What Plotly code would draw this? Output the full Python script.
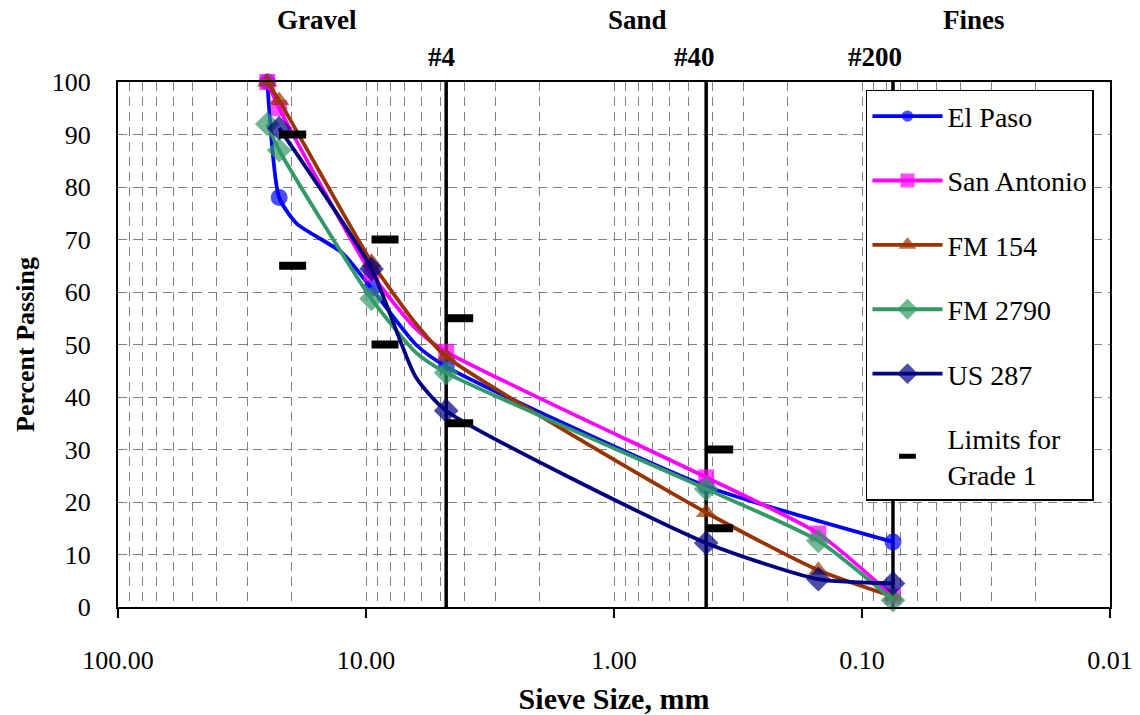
import math
import plotly.graph_objects as go

# Sieve openings (mm) used in the gradation tests
SIEVE_MM = [25.0, 22.4, 19.0, 12.5, 9.5, 6.3, 4.75, 0.425, 0.15, 0.075]
# Sieves that carry a visible marker on the curves
MARKED_SIEVES = [25.0, 22.4, 9.5, 4.75, 0.425, 0.15, 0.075]

# Percent passing per source (None = sieve not reported)
EL_PASO = [100, 78.0, 73.0, 67.5, 60.7, 50.0, 45.8, 23.0, None, 12.4]
SAN_ANTONIO = [100, 95.0, None, None, 63.5, 53.0, 48.6, 24.7, 14.0, 2.0]
FM_154 = [100, 96.5, None, None, 65.7, 54.0, 47.7, 18.0, 7.0, 2.0]
FM_2790 = [92.0, 87.0, None, None, 58.7, 48.5, 44.6, 22.5, 12.6, 1.3]
US_287 = [None, 91.2, None, None, 64.4, 43.8, 37.4, 12.2, 5.3, 4.5]

# Grade 1 specification limits
LIMIT_SIEVE_MM = [22.4, 22.4, 9.5, 9.5, 4.75, 4.75, 0.425, 0.425]
LIMIT_PCT = [90, 65, 70, 50, 55, 35, 30, 15]

# Sieve boundaries between gravel / sand / fines
BOUNDARY_MM = [4.75, 0.425, 0.075]
BOUNDARY_LABELS = ["#4", "#40", "#200"]

REGION_LABELS = ["Gravel", "Sand", "Fines"]
REGION_X_PAPER = [0.2006, 0.524, 0.863]

X_TICKS = [100, 10, 1, 0.1, 0.01]
X_TICK_TEXT = ["100.00", "10.00", "1.00", "0.10", "0.01"]

SERIF = "Liberation Serif"

series = [
    ("El Paso", EL_PASO, "#0000FF", "circle", 17),
    ("San Antonio", SAN_ANTONIO, "#FF00FF", "square", 16),
    ("FM 154", FM_154, "#993300", "triangle-up", 18),
    ("FM 2790", FM_2790, "#339966", "diamond", 19),
    ("US 287", US_287, "#000080", "diamond", 19),
]

fig = go.Figure()

# Heavy vertical lines at the #4, #40 and #200 sieves
for mm in BOUNDARY_MM:
    fig.add_trace(go.Scatter(
        x=[mm, mm], y=[0, 100], mode="lines",
        line=dict(color="black", width=3.5),
        showlegend=False, hoverinfo="skip",
    ))

for i, (name, values, color, symbol, msize) in enumerate(series):
    xs, ys, sizes = [], [], []
    for mm, v in zip(SIEVE_MM, values):
        if v is None:
            continue
        xs.append(mm)
        ys.append(v)
        sizes.append(msize if mm in MARKED_SIEVES else 0)
    fig.add_trace(go.Scatter(
        x=xs, y=ys, name=name, mode="lines+markers",
        line=dict(color=color, width=3.8, shape="spline", smoothing=0.6),
        marker=dict(symbol=symbol, size=sizes, color=color,
                    line=dict(width=0)),
        legendgroup=f"g{i}", cliponaxis=False,
    ))

# Specification limits: short bars starting at each sieve size
bar_x, bar_y = [], []
for mm, pct in zip(LIMIT_SIEVE_MM, LIMIT_PCT):
    bar_x += [mm, mm / 1.285, None]
    bar_y += [pct, pct, None]
fig.add_trace(go.Scatter(
    x=bar_x, y=bar_y, mode="lines",
    line=dict(color="black", width=8),
    showlegend=False, legendgroup="limits", hoverinfo="skip",
))
fig.add_trace(go.Scatter(
    x=[None], y=[None], mode="markers", name="Limits for<br>Grade 1",
    marker=dict(symbol="line-ew", size=12,
                line=dict(color="black", width=5)),
    legendgroup="limits",
))

annotations = []
for label, xp in zip(REGION_LABELS, REGION_X_PAPER):
    annotations.append(dict(
        text=f"<b>{label}</b>", x=xp, y=1.1181, xref="paper", yref="paper",
        xanchor="center", yanchor="middle",
        showarrow=False, font=dict(family=SERIF, size=27, color="black"),
    ))
for mm, label in zip(BOUNDARY_MM, BOUNDARY_LABELS):
    annotations.append(dict(
        text=f"<b>{label}</b>", x=math.log10(mm), y=1.0476,
        xref="x", yref="paper", xanchor="right", yanchor="middle", xshift=11,
        showarrow=False, font=dict(family=SERIF, size=27, color="black"),
    ))

minor_vals = [k * 10 ** e for e in range(-2, 2) for k in range(2, 10)]

fig.update_layout(
    width=1140, height=715,
    margin=dict(l=118, r=30, t=82, b=108),
    paper_bgcolor="white", plot_bgcolor="white",
    font=dict(family=SERIF, color="black"),
    annotations=annotations,
    legend=dict(
        x=0.754, y=0.985, xanchor="left", yanchor="top",
        bgcolor="white", bordercolor="black", borderwidth=1.5,
        font=dict(family=SERIF, size=28, color="black"),
        tracegroupgap=25, itemwidth=70,
    ),
    xaxis=dict(
        type="log", range=[2, -2], automargin=False,
        tickvals=X_TICKS, ticktext=X_TICK_TEXT,
        ticks="outside", ticklen=9, tickwidth=1.5, tickcolor="black",
        ticklabelstandoff=20,
        tickfont=dict(family=SERIF, size=26, color="black"),
        showgrid=True, gridcolor="#808080", gridwidth=1, griddash="9px,6px",
        minor=dict(tickvals=minor_vals, showgrid=True, gridcolor="#808080",
                   gridwidth=1, griddash="9px,6px"),
        showline=True, linecolor="black", linewidth=2, mirror=True,
        zeroline=False,
        title=dict(text="<b>Sieve Size, mm</b>", standoff=14,
                   font=dict(family=SERIF, size=30, color="black")),
    ),
    yaxis=dict(
        range=[0, 100], dtick=10, ticks="", automargin=False,
        ticklabelstandoff=20,
        tickfont=dict(family=SERIF, size=26, color="black"),
        showgrid=True, gridcolor="#808080", gridwidth=1, griddash="9px,6px",
        showline=True, linecolor="black", linewidth=2, mirror=True,
        zeroline=False,
        title=dict(text="<b>Percent Passing</b>", standoff=10,
                   font=dict(family=SERIF, size=26, color="black")),
    ),
)

fig.write_html("out.html")
